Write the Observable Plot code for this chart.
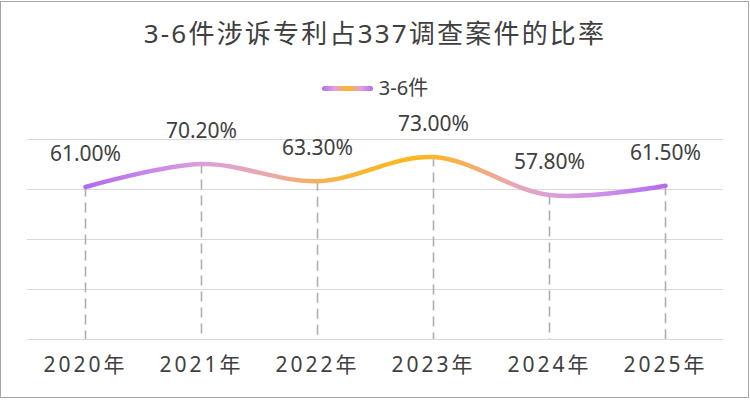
<!DOCTYPE html>
<html>
<head>
<meta charset="utf-8">
<script src="https://cdn.jsdelivr.net/npm/d3@7"></script>
<script src="https://cdn.jsdelivr.net/npm/@observablehq/plot@0.6"></script>
<style>
  html, body { margin: 0; padding: 0; background: #fff; }
  #wrap { position: relative; width: 750px; height: 413px; overflow: hidden;
          font-family: "Noto Sans", "Noto Sans CJK SC", sans-serif; color: #404040; }
  #frame { position: absolute; left: 0px; top: 1px; width: 749px; height: 397px;
           box-sizing: border-box; border: 1.5px solid #a6a6a6; pointer-events: none; }
  #title { padding-top: 18px; height: 30px; line-height: 30px; font-size: 26px;
           letter-spacing: 2.2px; text-align: center; }
  #legend { margin-top: 30px; height: 20px; line-height: 20px; display: flex;
            justify-content: center; align-items: center; gap: 6px; font-size: 20px; }
  #legend .swatch { width: 51px; height: 5px; border-radius: 3px;
            background: linear-gradient(to right, #b46cf2, #e0a2d8 25%, #fcb81a 50%, #e0a2d8 75%, #b46cf2); }
  #chart { margin-top: 2px; }
  #chart svg [aria-label="x-axis tick label"] text { letter-spacing: 3px; }
</style>
</head>
<body>
<div id="wrap">
  <div id="title">3-6件涉诉专利占337调查案件的比率</div>
  <div id="legend"><div class="swatch"></div><span id="legendLabel"></span></div>
  <div id="chart"></div>
  <div id="frame"></div>
</div>
<script>
// ---- data ----
const years = ["2020", "2021", "2022", "2023", "2024", "2025"];
const rates = [61.0, 70.2, 63.3, 73.0, 57.8, 61.5];
const seriesName = "3-6件";
const gridTicks = [0, 20, 40, 60, 80];

const data = years.map((y, i) => ({year: y, rate: rates[i]}));
document.getElementById("legendLabel").textContent = seriesName;

// gradient stops (style)
const gradStops = [
  [0, "#b26af2"], [0.2, "#daa0de"], [0.32, "#eaa9a8"], [0.42, "#f7b347"],
  [0.55, "#fcb81a"], [0.62, "#f9b33a"], [0.72, "#eda8a0"], [0.8, "#dca0da"],
  [0.9, "#cc8ee8"], [1, "#b26af2"]
];

function gradientDefs() {
  const ns = "http://www.w3.org/2000/svg";
  const defs = document.createElementNS(ns, "defs");
  const lg = document.createElementNS(ns, "linearGradient");
  lg.setAttribute("id", "lineGrad");
  lg.setAttribute("x1", "0"); lg.setAttribute("x2", "1");
  lg.setAttribute("y1", "0"); lg.setAttribute("y2", "0");
  for (const [o, c] of gradStops) {
    const s = document.createElementNS(ns, "stop");
    s.setAttribute("offset", o);
    s.setAttribute("stop-color", c);
    lg.appendChild(s);
  }
  defs.appendChild(lg);
  return defs;
}

const chart = Plot.plot({
  width: 750,
  height: 313,
  marginLeft: 27,
  marginRight: 27,
  marginTop: 39,
  marginBottom: 74,
  style: {fontFamily: "'Noto Sans','Noto Sans CJK SC',sans-serif", color: "#404040", background: "transparent"},
  x: {type: "point", domain: years, padding: 0.5, label: null},
  y: {domain: [0, 80], axis: null},
  marks: [
    gradientDefs,
    Plot.ruleY(gridTicks, {stroke: "#d9d9d9", strokeWidth: 1.2}),
    Plot.ruleX(data, {x: "year", y1: "rate", y2: 0, stroke: "#b0b0b0", strokeWidth: 1.6, strokeDasharray: "10,6"}),
    Plot.line(data, {x: "year", y: "rate", curve: "catmull-rom", stroke: "url(#lineGrad)",
                     strokeWidth: 4.5, strokeLinecap: "round"}),
    Plot.text(data, {x: "year", y: "rate", text: d => d3.format(".2f")(d.rate) + "%",
                     lineAnchor: "bottom", dy: -26, fontSize: 21, fill: "#404040"}),
    Plot.axisX({tickSize: 0, tickPadding: 18, fontSize: 21, tickFormat: d => d + "年", fill: "#404040", label: null})
  ]
});
document.getElementById("chart").appendChild(chart);
</script>
</body>
</html>
